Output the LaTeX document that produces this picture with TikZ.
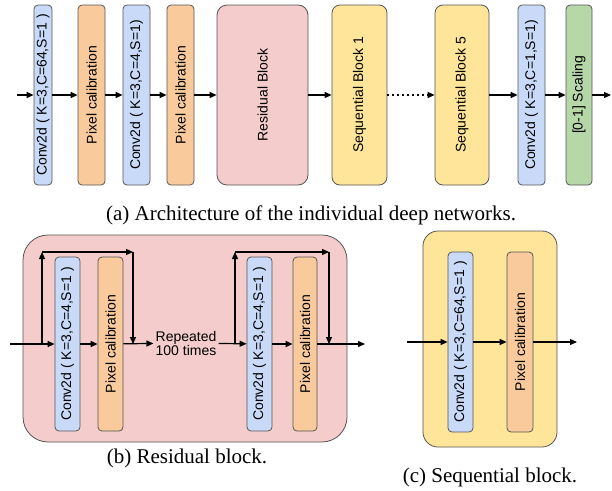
\documentclass[tikz,border=0pt]{standalone}
\usepackage{fontspec}
\setmainfont{Liberation Serif}
\setsansfont{Liberation Sans}
\usepackage{graphicx}
\usetikzlibrary{arrows.meta, positioning}
\definecolor{convblue}{HTML}{C9DAF8}
\definecolor{pixorange}{HTML}{F9CB9C}
\definecolor{respink}{HTML}{F4CCCC}
\definecolor{seqyellow}{HTML}{FFE599}
\definecolor{scalegreen}{HTML}{B6D7A8}
\definecolor{edge}{HTML}{555555}
\newcommand{\vtext}[1]{\rotatebox{90}{#1}}
\tikzset{
  box/.style={
    rectangle, rounded corners=4pt,
    draw=edge, line width=0.8pt, inner sep=0pt,
    align=center, font=\sffamily\fontsize{14}{16}\selectfont
  },
  convbox/.style={box, fill=convblue},
  pixbox/.style={box, fill=pixorange},
  resbox/.style={box, fill=respink},
  seqbox/.style={box, fill=seqyellow},
  scalingbox/.style={box, fill=scalegreen},
  tall/.style={minimum height=180pt},
  caption/.style={font=\fontsize{21}{24}\selectfont},
  note/.style={font=\sffamily\fontsize{14}{14}\selectfont, align=center, inner sep=2pt},
  arrow/.style={-{Triangle[length=7pt,width=6pt]}, line width=1.2pt, draw=black},
  dotarrow/.style={arrow, dash pattern=on 1.5pt off 3.5pt},
}

\begin{document}
\begin{tikzpicture}[x=1pt, y=-1pt]
  \useasboundingbox (0,0) rectangle (612,490);

  % (a) whole network
  \node[convbox, tall, minimum width=18pt] (conv1) at (43,95) {\vtext{Conv2d ( K=3,C=64,S=1 )}};
  \node[pixbox, tall, minimum width=27pt] (pix1) at (91.5,95) {\vtext{Pixel calibration}};
  \node[convbox, tall, minimum width=27pt] (conv2) at (136.5,95) {\vtext{Conv2d ( K=3,C=4,S=1)}};
  \node[pixbox, tall, minimum width=27pt] (pix2) at (180.5,95) {\vtext{Pixel calibration}};
  \node[resbox, tall, minimum width=91pt, rounded corners=10pt] (res) at (262.5,95) {\vtext{Residual Block}};
  \node[seqbox, tall, minimum width=55pt, rounded corners=8pt] (seq1) at (359.5,95) {\vtext{Sequential Block 1}};
  \node[seqbox, tall, minimum width=54pt, rounded corners=8pt] (seq5) at (462,95) {\vtext{Sequential Block 5}};
  \node[convbox, tall, minimum width=27pt] (conv3) at (531.5,95) {\vtext{Conv2d ( K=3,C=1,S=1)}};
  \node[scalingbox, tall, minimum width=26pt] (scale) at (579,95) {\vtext{[0-1] Scaling}};
  \coordinate (netin) at (17,95);
  \coordinate (netout) at (611,95);

  \foreach \from/\to in {netin/conv1, conv1/pix1, pix1/conv2, conv2/pix2, pix2/res,
                         res/seq1, seq5/conv3, conv3/scale, scale/netout}
    \draw[arrow] (\from) -- (\to);
  \draw[dotarrow] (seq1) -- (seq5);

  \node[caption] (capa) at (311,215) {(a) Architecture of the individual deep networks.};

  % (b) residual block
  \node[resbox, minimum width=324pt, minimum height=207pt, rounded corners=25pt] (resblk) at (185,338.5) {};
  \node[convbox, minimum width=25pt, minimum height=174pt] (rconv1) at (67.5,344) {\vtext{Conv2d ( K=3,C=4,S=1 )}};
  \node[pixbox, minimum width=25pt, minimum height=174pt] (rpix1) at (110.5,344) {\vtext{Pixel calibration}};
  \node[note] (rep) at (186,343) {Repeated\\100 times};
  \node[convbox, minimum width=25pt, minimum height=174pt] (rconv2) at (259.5,344) {\vtext{Conv2d ( K=3,C=4,S=1 )}};
  \node[pixbox, minimum width=24pt, minimum height=174pt] (rpix2) at (305,344) {\vtext{Pixel calibration}};
  \coordinate (resin) at (10,344);
  \coordinate (resout) at (365,344);
  \coordinate (skipa) at (42,344);
  \coordinate (skipb) at (42,252);
  \coordinate (skipc) at (133,252);
  \coordinate (skipd) at (133,344);
  \coordinate (skipe) at (235,344);
  \coordinate (skipf) at (235,252);
  \coordinate (skipg) at (329,252);
  \coordinate (skiph) at (329,344);

  \foreach \from/\to in {resin/rconv1, rconv1/rpix1, rpix1/rep, rep/rconv2, rconv2/rpix2, rpix2/resout,
                         skipa/skipb, skipb/skipc, skipc/skipd, skipe/skipf, skipf/skipg, skipg/skiph}
    \draw[arrow] (\from) -- (\to);

  \node[caption] (capb) at (187,458) {(b) Residual block.};

  % (c) sequential block
  \node[seqbox, minimum width=134pt, minimum height=216pt, rounded corners=15pt] (seqblk) at (490,339) {};
  \node[convbox, minimum width=25pt, tall] (sconv) at (460.5,342) {\vtext{Conv2d ( K=3,C=64,S=1 )}};
  \node[pixbox, minimum width=26pt, tall] (spix) at (520,342) {\vtext{Pixel calibration}};
  \coordinate (seqin) at (407,342);
  \coordinate (seqout) at (577,342);

  \foreach \from/\to in {seqin/sconv, sconv/spix, spix/seqout}
    \draw[arrow] (\from) -- (\to);

  \node[caption] (capc) at (490,477) {(c) Sequential block.};
\end{tikzpicture}
\end{document}
